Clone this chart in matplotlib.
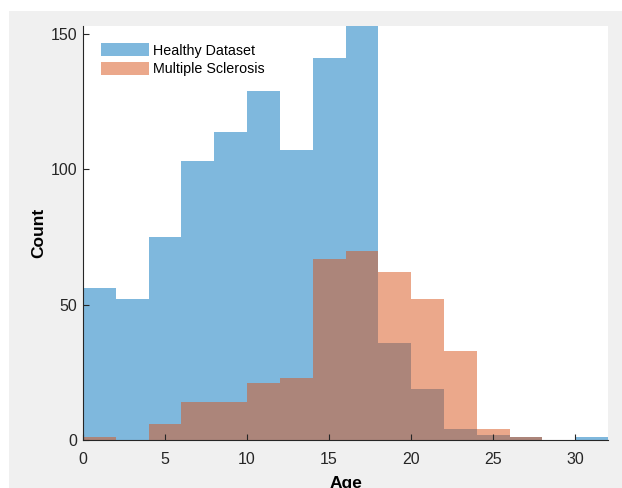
import numpy as np
import matplotlib
matplotlib.use('Agg')
import matplotlib.pyplot as plt
from matplotlib.patches import Rectangle

# bin edges (width 2, 0..32) and counts
edges = np.arange(0, 34, 2)
healthy = [56, 52, 75, 103, 114, 129, 107, 141, 153, 36, 19, 4, 2, 1, 0, 1]
ms = [1, 0, 6, 14, 14, 21, 23, 67, 70, 62, 52, 33, 4, 1, 0, 0]
labels = ['Healthy Dataset', 'Multiple Sclerosis']
xticks = [0, 5, 10, 15, 20, 25, 30]
yticks = [0, 50, 100, 150]

plt.rcParams['font.family'] = ['Liberation Sans', 'DejaVu Sans']

fig = plt.figure(figsize=(6.22, 4.88), dpi=100, facecolor='white')
# grey figure panel of the screenshot
fig.patches.append(Rectangle((9 / 622, 0), 1, 1 - 11 / 488, transform=fig.transFigure,
                             facecolor='#f0f0f0', edgecolor='none', zorder=-10))

ax = fig.add_axes([83 / 622, 1 - 440 / 488, 525 / 622, 414 / 488])
ax.set_facecolor('white')

blue = (0, 0.447, 0.741)
orange = (0.85, 0.325, 0.098)
ax.hist(edges[:-1], bins=edges, weights=healthy, color=blue, alpha=0.5,
        edgecolor='none', label=labels[0])
ax.hist(edges[:-1], bins=edges, weights=ms, color=orange, alpha=0.5,
        edgecolor='none', label=labels[1])

ax.set_xlim(0, 32)
ax.set_ylim(0, 153)
ax.set_xticks(xticks)
ax.set_yticks(yticks)

for s in ['top', 'right']:
    ax.spines[s].set_visible(False)
for s in ['left', 'bottom']:
    ax.spines[s].set_color('#262626')
    ax.spines[s].set_linewidth(0.8)
ax.tick_params(direction='in', length=4, width=0.8, color='#262626',
               labelcolor='#262626', labelsize=11.5)
ax.tick_params(axis='x', pad=9)
ax.tick_params(axis='y', pad=4)

ax.set_xlabel('Age', fontsize=12.5, fontweight='bold', labelpad=6)
ax.set_ylabel('Count', fontsize=12.5, fontweight='bold', labelpad=3)

ax.legend(loc='upper left', bbox_to_anchor=(101 / 622, 1 - 43 / 488),
          bbox_transform=fig.transFigure, frameon=False, fontsize=10.3,
          handlelength=3.35, handleheight=1.05, handletextpad=0.3,
          labelspacing=0.3, borderpad=0, borderaxespad=0)

plt.savefig('out.png', dpi=100, facecolor='white')
